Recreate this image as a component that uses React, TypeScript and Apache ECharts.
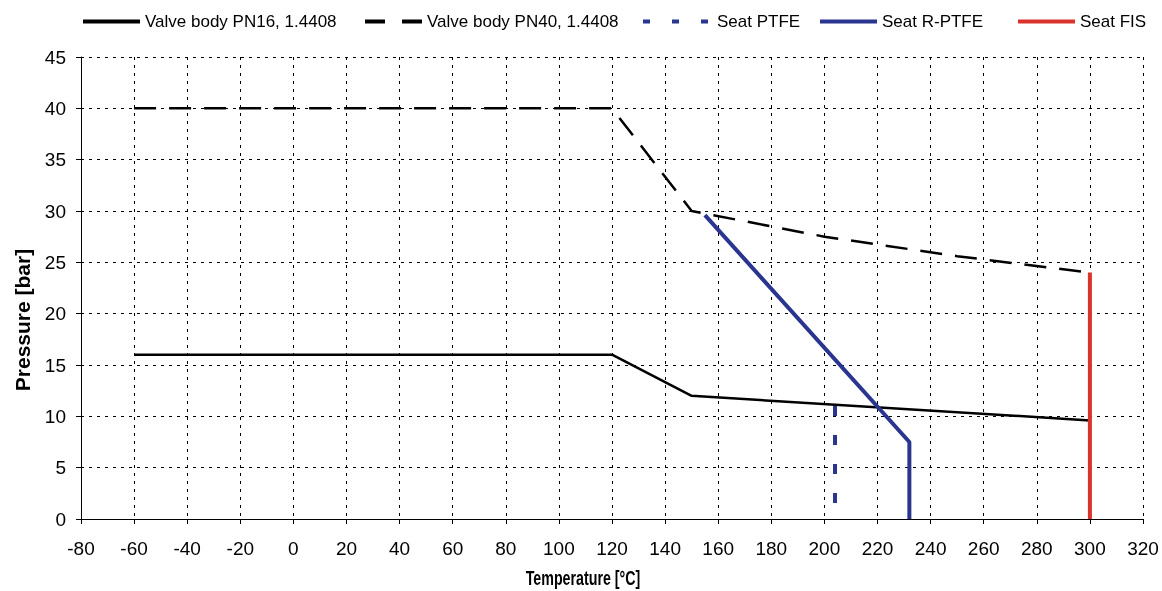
import React, { useEffect, useRef } from "react";
import * as echarts from "echarts";

const pn16: [number, number][] = [[-60, 16], [120, 16], [150, 12], [300, 9.6]];
const pn40: [number, number][] = [[-60, 40], [120, 40], [150, 30], [200, 27.5], [250, 25.6], [300, 24]];
const seatPTFE: [number, number][] = [[204, 11], [204, 0]];
const seatRPTFE: [number, number][] = [[155, 29.6], [232, 7.5], [232, 0]];
const seatFIS: [number, number][] = [[300, 0], [300, 24]];

const seriesNames = [
  "Valve body PN16, 1.4408",
  "Valve body PN40, 1.4408",
  "Seat PTFE",
  "Seat R-PTFE",
  "Seat FIS",
];
const xTitle = "Temperature [°C]";
const yTitle = "Pressure [bar]";

const BLUE = "#29358f";
const RED = "#d9342b";

export default function App() {
  const ref = useRef<HTMLDivElement>(null);
  useEffect(() => {
    if (!ref.current) return;
    const chart = echarts.init(ref.current, undefined, { renderer: "svg" });
    const font = "Liberation Sans, Arial, sans-serif";
    const mk = (name: string, data: [number, number][], color: string, width: number, type: any) => ({
      name,
      type: "line",
      data,
      showSymbol: false,
      symbol: "none",
      lineStyle: { color, width, type },
      itemStyle: { color },
    });
    const legendStyles: any[] = [
      { width: 4, type: "solid" },
      { width: 4, type: [20, 17] },
      { width: 4, type: [7, 22] },
      { width: 4, type: "solid" },
      { width: 4, type: "solid" },
    ];
    const legendLeft = [81, 363, 641, 818, 1016];
    const legendWidth = [57, 57, 69, 57, 57];
    chart.setOption({
      animation: false,
      textStyle: { fontFamily: font },
      legend: seriesNames.map((n, i) => ({
        top: 13,
        left: legendLeft[i],
        padding: 0,
        itemWidth: legendWidth[i],
        itemHeight: 14,
        icon: "inherit",
        itemStyle: { opacity: 0 },
        textStyle: { fontSize: 17, color: "#000", fontFamily: font },
        data: [{ name: n, lineStyle: legendStyles[i] }],
      })),
      grid: { left: 81, right: 19, top: 57, bottom: 72 },
      xAxis: {
        type: "value",
        min: -80,
        max: 320,
        interval: 20,
        axisLine: { onZero: false, lineStyle: { color: "#000", width: 1 } },
        axisTick: { show: true, length: 5, lineStyle: { color: "#000" } },
        axisLabel: { fontSize: 19, color: "#000", margin: 20 },
        splitLine: { show: true, lineStyle: { color: "#000", type: [3, 5], width: 1 } },
      },
      yAxis: {
        type: "value",
        min: 0,
        max: 45,
        interval: 5,
        axisLine: { show: true, onZero: false, lineStyle: { color: "#000", width: 1 } },
        axisTick: { show: true, length: 5, lineStyle: { color: "#000" } },
        axisLabel: { fontSize: 19, color: "#000", margin: 15 },
        splitLine: { show: true, lineStyle: { color: "#000", type: [3, 5], width: 1 } },
      },
      graphic: [
        {
          type: "text",
          x: 583,
          y: 578,
          scaleX: 0.95,
          scaleY: 1.35,
          style: {
            text: xTitle,
            fontSize: 15,
            fontWeight: "bold",
            fontFamily: font,
            fill: "#000",
            align: "center",
            verticalAlign: "middle",
          },
        },
        {
          type: "text",
          x: 22,
          y: 320,
          rotation: Math.PI / 2,
          style: {
            text: yTitle,
            fontSize: 21,
            fontWeight: "bold",
            fontFamily: font,
            fill: "#000",
            align: "center",
            verticalAlign: "middle",
          },
        },
      ],
      series: [
        mk(seriesNames[0], pn16, "#000000", 2.5, "solid"),
        mk(seriesNames[1], pn40, "#000000", 2.5, [22, 13]),
        mk(seriesNames[2], seatPTFE, BLUE, 4, [10, 19]),
        mk(seriesNames[3], seatRPTFE, BLUE, 4, "solid"),
        mk(seriesNames[4], seatFIS, RED, 4, "solid"),
      ],
    });
    return () => chart.dispose();
  }, []);
  return <div ref={ref} style={{ position: "fixed", left: 0, top: 0, width: 1162, height: 591 }} />;
}
